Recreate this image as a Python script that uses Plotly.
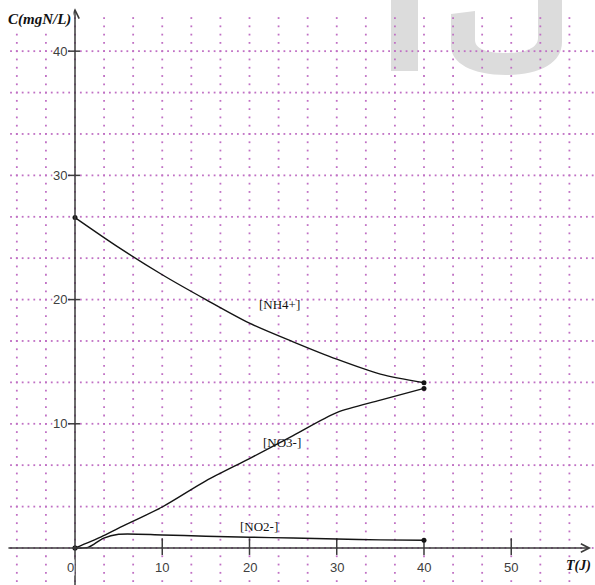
import numpy as np
import plotly.graph_objects as go

# ---- measured concentrations (mgN/L) versus time T (days) ----
t_nh4 = [0, 5, 10, 15, 20, 25, 30, 35, 40]
nh4 = [26.6, 24.2, 22.0, 20.0, 18.1, 16.6, 15.2, 14.0, 13.3]

t_no3 = [0, 3, 5, 10, 15, 20, 25, 30, 35, 40]
no3 = [0, 0.9, 1.6, 3.3, 5.4, 7.2, 9.05, 10.9, 11.9, 12.85]

t_no2 = [0, 1.5, 3.3, 5, 10, 15, 20, 25, 30, 35, 40]
no2 = [0, 0.05, 0.8, 1.1, 1.05, 0.95, 0.87, 0.8, 0.72, 0.65, 0.62]

series_names = ["[NH4+]", "[NO3-]", "[NO2-]"]
label_pos = [(23.4, 19.6), (23.7, 8.5), (21.1, 1.7)]

x_ticks = [10, 20, 30, 40, 50]
y_ticks = [10, 20, 30, 40]

W, H = 595, 585
X_RANGE = [-8.596, 59.6]
Y_RANGE = [-2.98, 44.12]

AXIS_COL = "#3c3c3c"
LINE_COL = "#141414"
GRID_COL = "#c070c4"
TEXT_COL = "#404040"

fig = go.Figure()


def px(xp):
    return xp / W


def py(yp):
    return 1 - yp / H


# ---- faint watermark letters behind everything ----
fig.add_shape(type="rect", xref="paper", yref="paper",
              x0=px(391), x1=px(418), y0=py(71), y1=py(-10),
              fillcolor="#dcdcdc", line_width=0, layer="below")
j_pts = ("M {a},{b} L {c},{d} L {c},{e} C {c},{f} {g},{h} {i},{h} "
         "C {j},{h} {k},{l} {k},{m} L {k},{n} L {o},{n} L {o},{p} "
         "C {o},{q} {r},{s} {i},{s} C {t},{s} {a},{q} {a},{u} Z")
j_path = j_pts.format(
    a=px(451), b=py(14), c=px(475), d=py(11), e=py(40), f=py(50),
    g=px(490), h=py(53), i=px(506), j=px(525), k=px(538), l=py(48),
    m=py(38), n=py(-10), o=px(562), p=py(42), q=py(63), r=px(540),
    s=py(75), t=px(472), u=py(46))
fig.add_shape(type="path", xref="paper", yref="paper", path=j_path,
              fillcolor="#dcdcdc", line_width=0, layer="below")

# ---- dotted grid: major lines every 10/3, dots every 2/3 along them ----
step_major = 10 / 3
step_dot = 2 / 3
gx, gy = [], []
v_lines = [k * step_major for k in range(-2, 18)]
v_dots = [j * step_dot for j in range(-5, 65)]
for xv in v_lines:
    for yv in v_dots:
        gx.append(xv)
        gy.append(yv)
h_lines = [k * step_major for k in range(0, 13)]
h_dots = [j * step_dot for j in range(-11, 90)]
for yv in h_lines:
    for xv in h_dots:
        gx.append(xv)
        gy.append(yv)
fig.add_trace(go.Scatter(x=gx, y=gy, mode="markers", hoverinfo="skip",
                         marker=dict(symbol="square", size=1.8, color=GRID_COL,
                                     line_width=0),
                         showlegend=False))

# ---- tick marks crossing the axes ----
tx, ty = [], []
for t in x_ticks:
    tx += [t, t, None]
    ty += [0.78, -0.56, None]
for v in y_ticks:
    tx += [-0.8, 0.57, None]
    ty += [v, v, None]
fig.add_trace(go.Scatter(x=tx, y=ty, mode="lines", hoverinfo="skip",
                         line=dict(color=AXIS_COL, width=1.5),
                         showlegend=False))

# ---- concentration curves ----
for tt, vals in [(t_nh4, nh4), (t_no3, no3), (t_no2, no2)]:
    fig.add_trace(go.Scatter(x=tt, y=vals, mode="lines",
                             line=dict(color=LINE_COL, width=1.4,
                                       shape="spline", smoothing=0.8),
                             showlegend=False))
    fig.add_trace(go.Scatter(x=[tt[0], tt[-1]], y=[vals[0], vals[-1]],
                             mode="markers",
                             marker=dict(size=5, color=LINE_COL),
                             showlegend=False))

annotations = []

# axes drawn as arrows
annotations.append(dict(x=59.15, y=0, ax=-7.8, ay=0, xref="x", yref="y",
                        axref="x", ayref="y", text="", showarrow=True,
                        arrowhead=5, arrowsize=1.1, arrowwidth=1.5,
                        arrowcolor=AXIS_COL, standoff=0, startstandoff=0))
annotations.append(dict(x=0, y=43.45, ax=0, ay=-3.2, xref="x", yref="y",
                        axref="x", ayref="y", text="", showarrow=True,
                        arrowhead=5, arrowsize=1.1, arrowwidth=1.5,
                        arrowcolor=AXIS_COL, standoff=0, startstandoff=0))

# tick labels
tick_font = dict(family="Liberation Sans, Arial, sans-serif", size=13,
                 color=TEXT_COL)
for t in x_ticks:
    annotations.append(dict(x=t, y=-1.61, xref="x", yref="y", text=str(t),
                            showarrow=False, font=tick_font,
                            xanchor="center", yanchor="middle",
                            bgcolor="white", borderpad=0))
annotations.append(dict(x=-0.57, y=-1.61, xref="x", yref="y", text="0",
                        showarrow=False, font=tick_font, xanchor="center",
                        yanchor="middle", bgcolor="white", borderpad=0))
for v in y_ticks:
    annotations.append(dict(x=-0.8, y=v, xref="x", yref="y", text=str(v),
                            showarrow=False, font=tick_font, xanchor="right",
                            yanchor="middle", bgcolor="white", borderpad=0))

# series labels
serif = "Liberation Serif, Times New Roman, serif"
for name, (lx, ly) in zip(series_names, label_pos):
    annotations.append(dict(x=lx, y=ly, xref="x", yref="y", text=name,
                            showarrow=False,
                            font=dict(family=serif, size=13, color="#111111"),
                            xanchor="center", yanchor="middle"))

# axis titles
annotations.append(dict(x=px(39), y=py(20), xref="paper", yref="paper",
                        text="<b><i>C(mgN/L)</i></b>", showarrow=False,
                        font=dict(family=serif, size=15, color="#111111"),
                        xanchor="center", yanchor="middle",
                        bgcolor="white", borderpad=2))
annotations.append(dict(x=px(593), y=py(566), xref="paper", yref="paper",
                        text="<b><i>T(J)</i></b>", showarrow=False,
                        font=dict(family=serif, size=14, color="#111111"),
                        xanchor="right", yanchor="middle"))

fig.update_layout(
    width=W, height=H,
    margin=dict(l=0, r=0, t=0, b=0),
    paper_bgcolor="white", plot_bgcolor="white",
    xaxis=dict(range=X_RANGE, visible=False, fixedrange=True),
    yaxis=dict(range=Y_RANGE, visible=False, fixedrange=True),
    annotations=annotations,
    showlegend=False,
)

fig.write_html("out.html")
